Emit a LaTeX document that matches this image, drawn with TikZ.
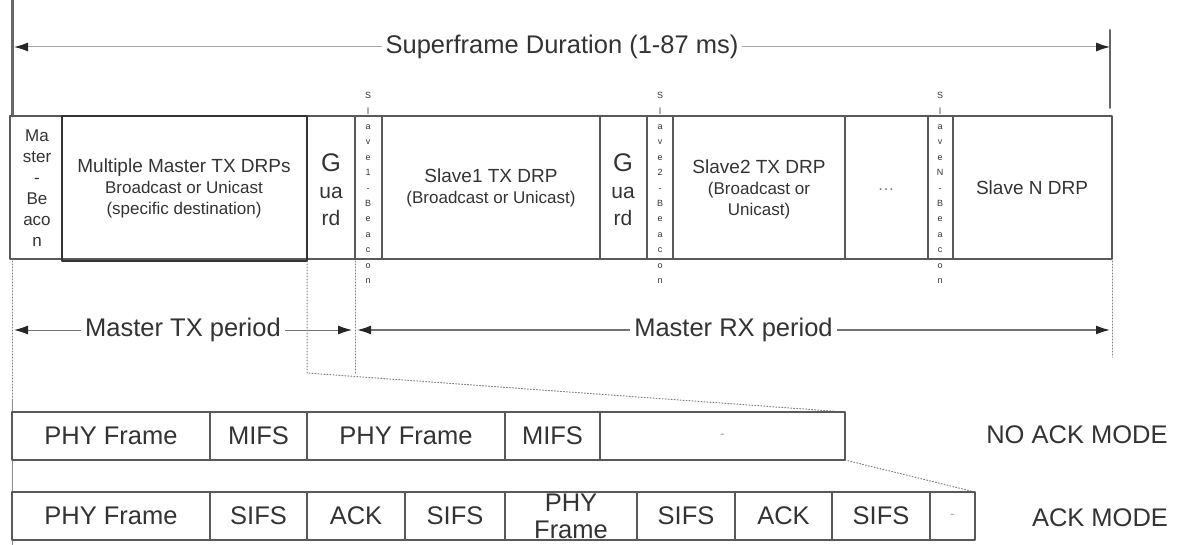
\documentclass[tikz,border=0pt]{standalone}
\usepackage{fontspec}
\setmainfont{Liberation Sans}
\usetikzlibrary{arrows.meta}
\begin{document}
\begin{tikzpicture}[x=1pt,y=-1pt,>={Latex[length=14pt,width=9pt,color=black!85]}, line join=round, line cap=round,
	cell/.style={draw=black!65,line width=1.3pt},
	lab/.style={text=black!80,align=center,inner sep=0pt},
	big/.style={font=\fontsize{25.5}{27}\selectfont},
	mid/.style={font=\fontsize{19}{21}\selectfont},
	sml/.style={font=\fontsize{17}{21}\selectfont},
	tiny/.style={font=\fontsize{9}{15.4}\selectfont},
	dim/.style={<->,draw=black!55,line width=1pt},
	dotline/.style={draw=black!50,dotted,line width=1pt}]
	\useasboundingbox (0,0) rectangle (1183,545);
	\path
	(14,47) coordinate (sL)
	(1110,47) coordinate (sR)
	(14,330) coordinate (tL)
	(352,330) coordinate (tR)
	(357,330) coordinate (rL)
	(1110,330) coordinate (rR)
	(307,373) coordinate (k1)
	(355,373) coordinate (k2)
	(845,412) coordinate (n1)
	(845,460) coordinate (n2)
	(975,492) coordinate (a1)
	;
	% frame edges
	\draw[black!60,line width=3pt] (12,0)--(12,116);
	\draw[dotline] (12,261)--(12,400);
	\draw[black!45,line width=1pt] (12,400)--(12,545);
	\draw[black!60,line width=2pt] (1110,30)--(1110,108);
	% superframe
	\foreach \a/\b in {10/62,62/307,307/355,355/382,382/600,600/647,647/673,673/845,845/928,928/953,953/1112}
	\draw[cell] (\a,116) rectangle (\b,259);
	\draw[black!80,line width=1.8pt] (62,116) rectangle (307,261);
	\node[lab,sml] (mb) at (37,188) {Ma\\ster\\-\\Be\\aco\\n};
	\node[lab,sml] (mtx) at (184,188) {{\fontsize{19}{21}\selectfont Multiple Master TX DRPs}\\Broadcast or Unicast\\(specific destination)};
	\foreach \x/\g in {331/gd1,623/gd2}
	\node[lab,big] (\g) at (\x,190) {G\\{\fontsize{21}{27}\selectfont ua}\\{\fontsize{21}{27}\selectfont rd}};
	\foreach \x/\k in {368/1,660/2,940/N}
	\node[lab,tiny] (b\k) at (\x,188) {S\\l\\a\\v\\e\\\k\\-\\B\\e\\a\\c\\o\\n};
	\node[lab,sml] (s1) at (491,188) {{\fontsize{19}{21}\selectfont Slave1 TX DRP}\\(Broadcast or Unicast)};
	\node[lab,sml] (s2) at (759,189) {{\fontsize{19}{21}\selectfont Slave2 TX DRP}\\(Broadcast or\\Unicast)};
	\node[lab,sml,text=black!50] (etc) at (886,190) {\dots};
	\node[lab,mid] (sN) at (1032,188) {Slave N DRP};
	% periods
	\draw[dim,black!35] (sL) -- node[lab,big,fill=white,inner sep=4pt] (sf) {Superframe Duration (1-87 ms)} (sR);
	\draw[dim] (tL) -- node[lab,big,fill=white,inner sep=4pt] (tx) {Master TX period} (tR);
	\draw[dim,line width=1.5pt] (rL) -- node[lab,big,fill=white,inner sep=4pt] (rx) {Master RX period} (rR);
	\draw[dotline] (307,261)--(k1)--(n1);
	\draw[dotline] (355,261)--(k2);
	\draw[dotline] (1112,261)--(1112,357);
	\draw[dotline] (n2)--(a1);
	% no ack mode
	\foreach \a/\b/\t/\n in {12/210/PHY Frame/p1,210/307/MIFS/m1,307/505/PHY Frame/p2,505/600/MIFS/m2,600/845/{\fontsize{14}{14}\selectfont\color{black!35}-}/d1}{
		\draw[cell] (\a,412) rectangle (\b,460);
		\node[lab,big] (\n) at ({(\a+\b)/2},436) {\t};
	}
	% ack mode
	\foreach \a/\b/\t/\n in {12/210/PHY Frame/q1,210/307/SIFS/q2,307/405/ACK/q3,405/505/SIFS/q4,505/637/PHY\\Frame/q5,637/735/SIFS/q6,735/832/ACK/q7,832/930/SIFS/q8,930/975/{\fontsize{14}{14}\selectfont\color{black!35}-}/q9}{
		\draw[cell] (\a,492) rectangle (\b,540);
		\node[lab,big] (\n) at ({(\a+\b)/2},516) {\t};
	}
	\node[lab,big] (nam) at (1077,435) {NO ACK MODE};
	\node[lab,big] (am) at (1100,518) {ACK MODE};
\end{tikzpicture}
\end{document}
